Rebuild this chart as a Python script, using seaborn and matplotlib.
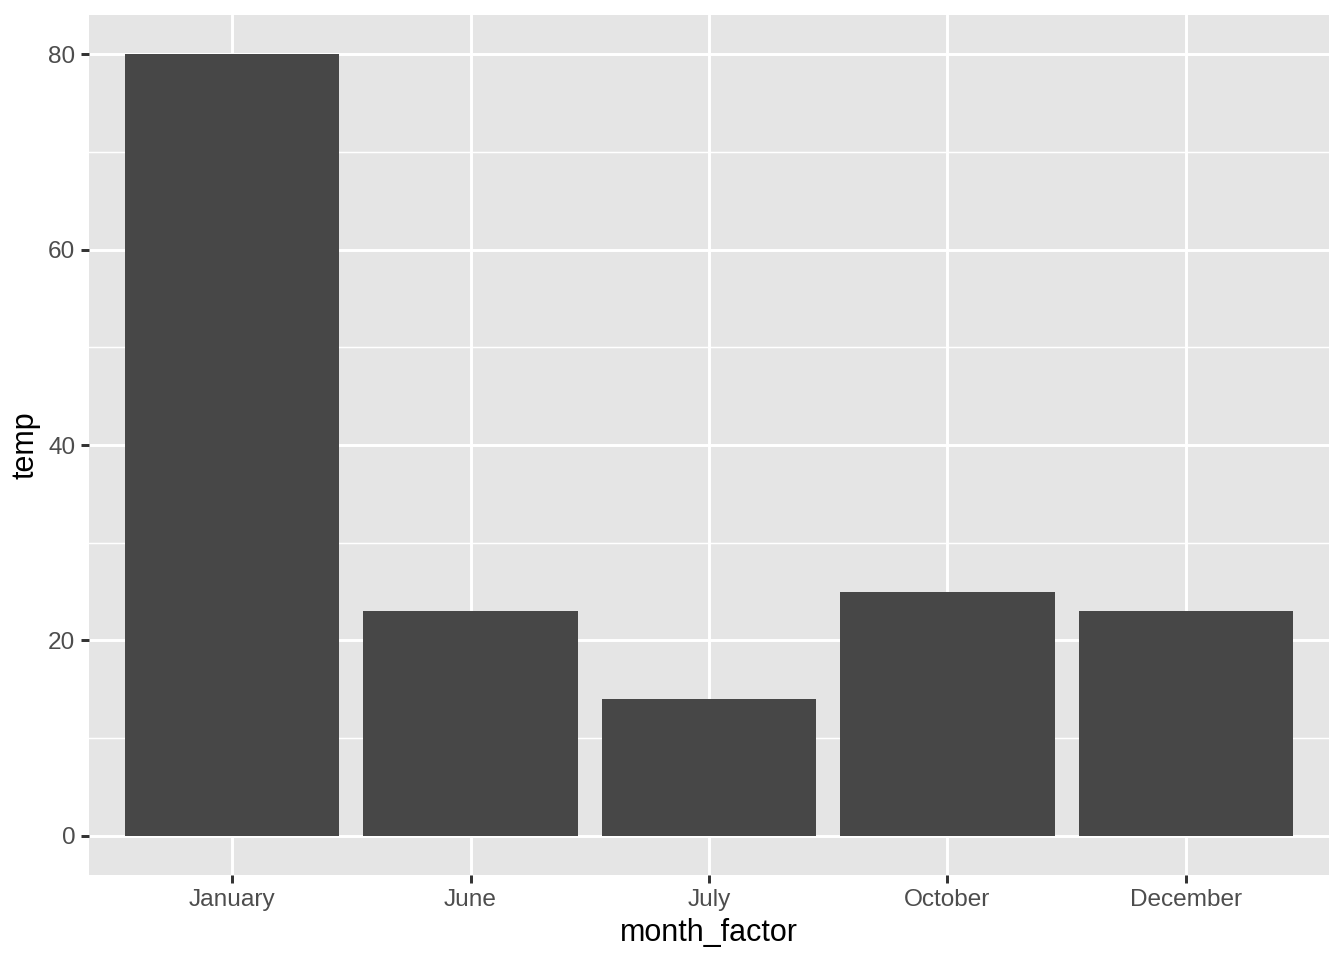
import matplotlib
matplotlib.use("Agg")
import matplotlib.pyplot as plt
import seaborn as sns
import pandas as pd

months = ["January", "June", "July", "October", "December"]
temps = [80, 23, 14, 25, 23]

df = pd.DataFrame({"month_factor": months, "temp": temps})

sns.set_theme(style="darkgrid")
plt.rcParams["font.family"] = ["Liberation Sans", "DejaVu Sans"]

fig = plt.figure(figsize=(6.72, 4.8), dpi=200)
ax = fig.add_axes([89/1344, 1 - 875/960, (1329-89)/1344, (875-15)/960])
ax.set_facecolor("#E5E5E5")

sns.barplot(data=df, x="month_factor", y="temp", order=months, color="#474747",
            width=0.9, saturation=1, ax=ax, zorder=3)
for p in ax.patches:
    p.set_edgecolor("none")
    p.set_linewidth(0)

ax.set_xlim(-0.6, 4.6)
ax.set_ylim(-4, 84)
ax.set_yticks([0, 20, 40, 60, 80])
ax.set_yticks([10, 30, 50, 70], minor=True)

ax.grid(True, which="major", color="white", linewidth=1.07, zorder=0)
ax.grid(True, which="minor", axis="y", color="white", linewidth=0.53, zorder=0)
ax.grid(False, which="minor", axis="x")
ax.set_axisbelow(True)
for s in ax.spines.values():
    s.set_visible(False)

ax.tick_params(axis="both", which="major", length=2.75, width=1.07, color="#333333",
               labelsize=8.8, labelcolor="#4D4D4D", pad=2.2, direction="out")
ax.tick_params(axis="both", which="minor", length=0)
ax.xaxis.set_ticks_position("bottom")
ax.yaxis.set_ticks_position("left")

ax.set_xlabel("month_factor", fontsize=11, color="black", labelpad=2.75)
ax.set_ylabel("temp", fontsize=11, color="black", labelpad=2.75)

fig.savefig("out.png", dpi=200, facecolor="white")
